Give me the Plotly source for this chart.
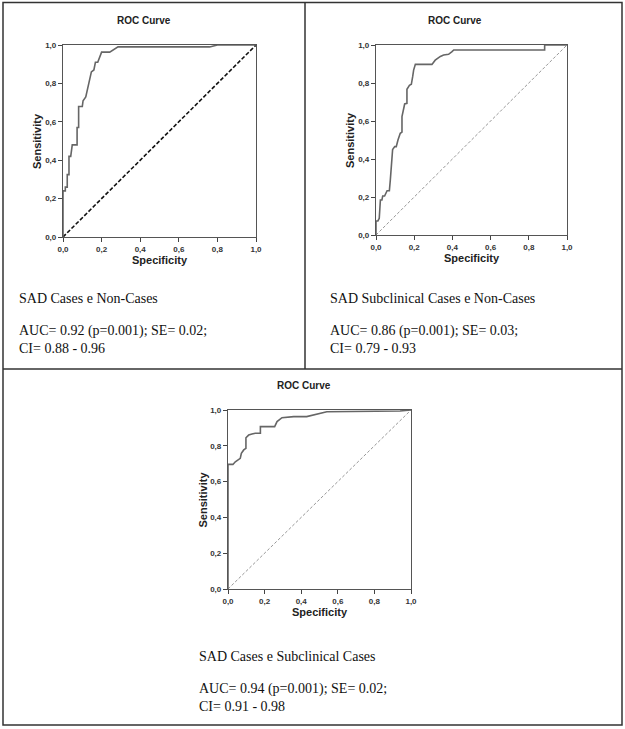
import plotly.graph_objects as go

# ---------------- data ----------------
tick_vals = [0, 0.2, 0.4, 0.6, 0.8, 1.0]
tick_text = ["0,0", "0,2", "0,4", "0,6", "0,8", "1,0"]

# Panel 1: SAD Cases e Non-Cases
roc1_x = [0, 0, 0.012, 0.012, 0.022, 0.022, 0.031, 0.031, 0.040, 0.048, 0.073, 0.073, 0.081, 0.081,
          0.100, 0.104, 0.118, 0.130, 0.138, 0.147, 0.160, 0.168, 0.180, 0.190, 0.200, 0.242,
          0.268, 0.285, 0.760, 0.800, 1.0]
roc1_y = [0, 0.24, 0.24, 0.26, 0.26, 0.325, 0.325, 0.42, 0.42, 0.48, 0.48, 0.57, 0.57, 0.68,
          0.68, 0.71, 0.73, 0.78, 0.82, 0.86, 0.87, 0.91, 0.91, 0.94, 0.963, 0.963,
          0.98, 0.99, 0.99, 1.0, 1.0]

# Panel 2: SAD Subclinical Cases e Non-Cases
roc2_x = [0, 0, 0.010, 0.017, 0.023, 0.031, 0.035, 0.045, 0.058, 0.070, 0.075, 0.080, 0.087,
          0.098, 0.106, 0.115, 0.127, 0.136, 0.136, 0.147, 0.150, 0.162, 0.162, 0.175, 0.185,
          0.192, 0.197, 0.206, 0.293, 0.310, 0.337, 0.354, 0.380, 0.398, 0.407, 0.883, 0.883, 1.0]
roc2_y = [0, 0.074, 0.074, 0.088, 0.184, 0.184, 0.205, 0.205, 0.233, 0.233, 0.29, 0.36, 0.45,
          0.465, 0.465, 0.50, 0.535, 0.542, 0.623, 0.675, 0.69, 0.693, 0.767, 0.788, 0.793,
          0.833, 0.868, 0.898, 0.898, 0.92, 0.94, 0.947, 0.951, 0.965, 0.974, 0.974, 1.0, 1.0]

# Panel 3: SAD Cases e Subclinical Cases
roc3_x = [0, 0, 0.027, 0.040, 0.067, 0.073, 0.086, 0.098, 0.098, 0.113, 0.131, 0.149, 0.177,
          0.177, 0.255, 0.268, 0.295, 0.359, 0.430, 0.468, 0.500, 0.540, 0.940, 0.980, 1.0]
roc3_y = [0, 0.696, 0.696, 0.711, 0.73, 0.758, 0.777, 0.786, 0.845, 0.86, 0.866, 0.87, 0.87,
          0.907, 0.907, 0.935, 0.957, 0.963, 0.963, 0.972, 0.98, 0.99, 0.994, 1.0, 1.0]

ref_line = [0, 1]

panel_titles = ["ROC Curve", "ROC Curve", "ROC Curve"]
x_title = "Specificity"
y_title = "Sensitivity"

captions = [
    ["SAD Cases e Non-Cases", "AUC= 0.92 (p=0.001); SE= 0.02;", "CI= 0.88 - 0.96"],
    ["SAD Subclinical Cases e Non-Cases", "AUC= 0.86 (p=0.001); SE= 0.03;", "CI= 0.79 - 0.93"],
    ["SAD Cases e Subclinical Cases", "AUC= 0.94 (p=0.001); SE= 0.02;", "CI= 0.91 - 0.98"],
]

# ---------------- layout helpers ----------------
W, H = 625, 729


def px(x):
    return x / W


def py(y):
    return 1 - y / H


# plot-area boxes in pixels: (left, right, top, bottom)
boxes = [(63, 256, 45, 237), (376, 567, 45, 235), (228, 411, 410, 589)]
title_x = [144, 455, 304]
caption_pos = [(17, 298, 331, 348), (328, 298, 331, 348), (197, 656, 689, 706)]
diag_styles = [dict(color="#111111", width=1.6, dash="4px,2px"),
               dict(color="#8a8a8a", width=0.9, dash="3px,2px"),
               dict(color="#8a8a8a", width=0.9, dash="3px,2px")]
curves = [(roc1_x, roc1_y), (roc2_x, roc2_y), (roc3_x, roc3_y)]

fig = go.Figure()
layout = dict(width=W, height=H, margin=dict(l=0, r=0, t=0, b=0, autoexpand=False),
              paper_bgcolor="white", plot_bgcolor="white", showlegend=False)

annotations = []
shapes = []
axis_font = dict(family="Liberation Sans, Arial", size=8, color="#333333", weight="bold")

for i, ((l, r, t, b), (cx, cy), ds) in enumerate(zip(boxes, curves, diag_styles)):
    n = "" if i == 0 else str(i + 1)
    xa, ya = "x" + n, "y" + n
    fig.add_trace(go.Scatter(x=ref_line, y=ref_line, mode="lines", line=ds,
                             xaxis=xa, yaxis=ya, hoverinfo="skip"))
    fig.add_trace(go.Scatter(x=cx, y=cy, mode="lines",
                             line=dict(color="#666666", width=1.6),
                             xaxis=xa, yaxis=ya))
    common = dict(range=[0, 1], tickvals=tick_vals, ticktext=tick_text,
                  showgrid=False, zeroline=False, showline=True, mirror=True,
                  linecolor="#555555", linewidth=1.3, ticks="outside", ticklen=4,
                  tickcolor="#444444", tickwidth=1.2, tickfont=axis_font, fixedrange=True)
    layout["xaxis" + n] = dict(common, domain=[px(l), px(r)], anchor=ya)
    layout["yaxis" + n] = dict(common, domain=[py(b), py(t)], anchor=xa)

    cxm = (l + r) / 2
    cym = (t + b) / 2
    annotations.append(dict(x=px(title_x[i]), y=py(t - 25), xref="paper", yref="paper",
                            text="<b>%s</b>" % panel_titles[i], showarrow=False,
                            font=dict(family="Liberation Sans, Arial", size=10, color="#222222"),
                            xanchor="center", yanchor="middle"))
    annotations.append(dict(x=px(cxm), y=py(b + 23), xref="paper", yref="paper",
                            text="<b>%s</b>" % x_title, showarrow=False,
                            font=dict(family="Liberation Sans, Arial", size=11, color="#222222"),
                            xanchor="center", yanchor="middle"))
    annotations.append(dict(x=px(l - 26), y=py(cym), xref="paper", yref="paper",
                            text="<b>%s</b>" % y_title, showarrow=False, textangle=-90,
                            font=dict(family="Liberation Sans, Arial", size=11, color="#222222"),
                            xanchor="center", yanchor="middle"))

    tx, y1, y2, y3 = caption_pos[i]
    for txt, yy in zip(captions[i], (y1, y2, y3)):
        annotations.append(dict(x=px(tx), y=py(yy), xref="paper", yref="paper",
                                text=txt, showarrow=False,
                                font=dict(family="Liberation Serif, Times New Roman", size=14,
                                          color="#111111"),
                                xanchor="left", yanchor="middle"))

# table frame
frame = dict(color="#333333", width=1.5)
shapes.append(dict(type="rect", xref="paper", yref="paper",
                   x0=px(3), x1=px(622), y0=py(725), y1=py(2.5), line=frame))
shapes.append(dict(type="line", xref="paper", yref="paper",
                   x0=px(3), x1=px(622), y0=py(369), y1=py(369), line=frame))
shapes.append(dict(type="line", xref="paper", yref="paper",
                   x0=px(305), x1=px(305), y0=py(2.5), y1=py(369), line=frame))

layout["annotations"] = annotations
layout["shapes"] = shapes
fig.update_layout(**layout)
fig.write_html("out.html", config={"displayModeBar": False},
               post_script="document.body.style.margin='0';document.body.style.overflow='hidden';")
